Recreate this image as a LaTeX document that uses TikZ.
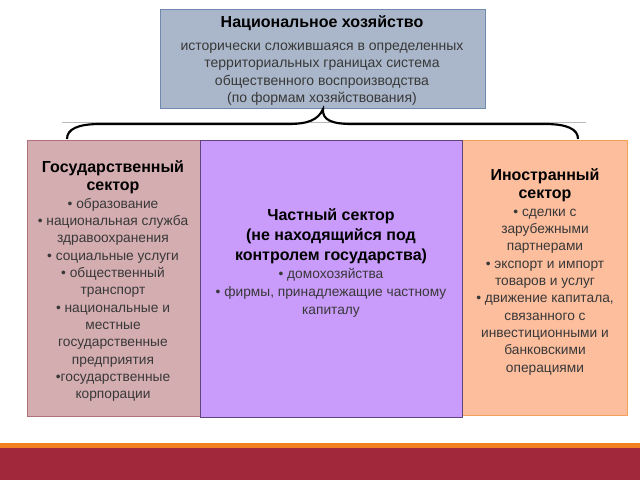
\documentclass[tikz,border=0pt]{standalone}
\usepackage{fontspec}
\setmainfont{Liberation Sans}
\definecolor{topfill}{HTML}{AAB7CA}
\definecolor{topdraw}{HTML}{7089AE}
\definecolor{gosfill}{HTML}{D4ADB0}
\definecolor{gosdraw}{HTML}{B0707A}
\definecolor{chfill}{HTML}{C99BFA}
\definecolor{chdraw}{HTML}{5E4580}
\definecolor{infill}{HTML}{FDBE9E}
\definecolor{indraw}{HTML}{F2A05A}
\definecolor{bandred}{HTML}{A0283A}
\definecolor{bandorange}{HTML}{F08020}
\definecolor{txt}{HTML}{383838}
\tikzset{
  box/.style={draw, line width=0.8pt, inner sep=0pt},
  boxtext/.style={align=center, font=\fontsize{10.3}{13}\selectfont, text=txt, inner sep=0pt},
  toptextstyle/.style={align=center, font=\fontsize{10.5}{13.1}\selectfont, text=txt, inner sep=0pt},
  brace/.style={line width=1.6pt, black},
}
\newcommand{\hd}[1]{{\fontsize{12}{14}\selectfont\bfseries\color{black}#1}}
\begin{document}
\begin{tikzpicture}[x=0.75pt,y=-0.75pt]
\useasboundingbox (0,0) rectangle (640,480);
\fill[white] (0,0) rectangle (640,480);
% bottom band
\fill[bandorange] (0,443) rectangle (640,448);
\fill[bandred] (0,448) rectangle (640,480);
% top box
\node[box, fill=topfill, draw=topdraw, minimum width=325*0.75pt, minimum height=99*0.75pt, anchor=north west] (top) at (160,9) {};
\node[toptextstyle, anchor=north] (toptext) at (322,15.5) {\hd{Национальное хозяйство}\\[4pt]
 исторически сложившаяся в определенных\\
 территориальных границах система\\
 общественного воспроизводства\\
 (по формам хозяйствования)};
% gray line
\draw[gray!55, line width=0.6pt] (62,122) -- (586,122);
% boxes
\node[box, fill=gosfill, draw=gosdraw, minimum width=173*0.75pt, minimum height=276*0.75pt, anchor=north west] (gos) at (27,140) {};
\node[box, fill=infill, draw=indraw, minimum width=165*0.75pt, minimum height=275*0.75pt, anchor=north west] (inostr) at (462,140) {};
\node[box, fill=chfill, draw=chdraw, minimum width=262*0.75pt, minimum height=277*0.75pt, anchor=north west] (chast) at (200,140) {};
% brace
\coordinate (bl) at (67,139);
\coordinate (br) at (578,139);
\draw[brace] (bl) .. controls (67,129) and (78,124) .. (100,124)
  -- (288,124) .. controls (308,124) and (318,120) .. (top.south)
  .. controls (322,120) and (332,124) .. (352,124)
  -- (545,124) .. controls (567,124) and (578,129) .. (br);
% texts
\node[boxtext, anchor=north] (gostext) at (113,160) {\hd{Государственный}\\[0.5pt]
 \hd{сектор}\\[0.5pt]
 • образование\\
 • национальная служба\\
 здравоохранения\\
 • социальные услуги\\
 • общественный\\
 транспорт\\
 • национальные и\\
 местные\\
 государственные\\
 предприятия\\
 •государственные\\
 корпорации};
\node[boxtext, anchor=north] (chtext) at (331,208.5) {\hd{Частный сектор}\\[2pt]
 \hd{(не находящийся под}\\[2pt]
 \hd{контролем государства)}\\[0.5pt]
 • домохозяйства\\[0.3pt]
 • фирмы, принадлежащие частному\\[0.8pt]
 капиталу};
\node[boxtext, anchor=north] (intext) at (545,168) {\hd{Иностранный}\\[0.5pt]
 \hd{сектор}\\[0.5pt]
 • сделки с\\
 зарубежными\\
 партнерами\\
 • экспорт и импорт\\
 товаров и услуг\\
 • движение капитала,\\
 связанного с\\
 инвестиционными и\\
 банковскими\\
 операциями};
\end{tikzpicture}
\end{document}
